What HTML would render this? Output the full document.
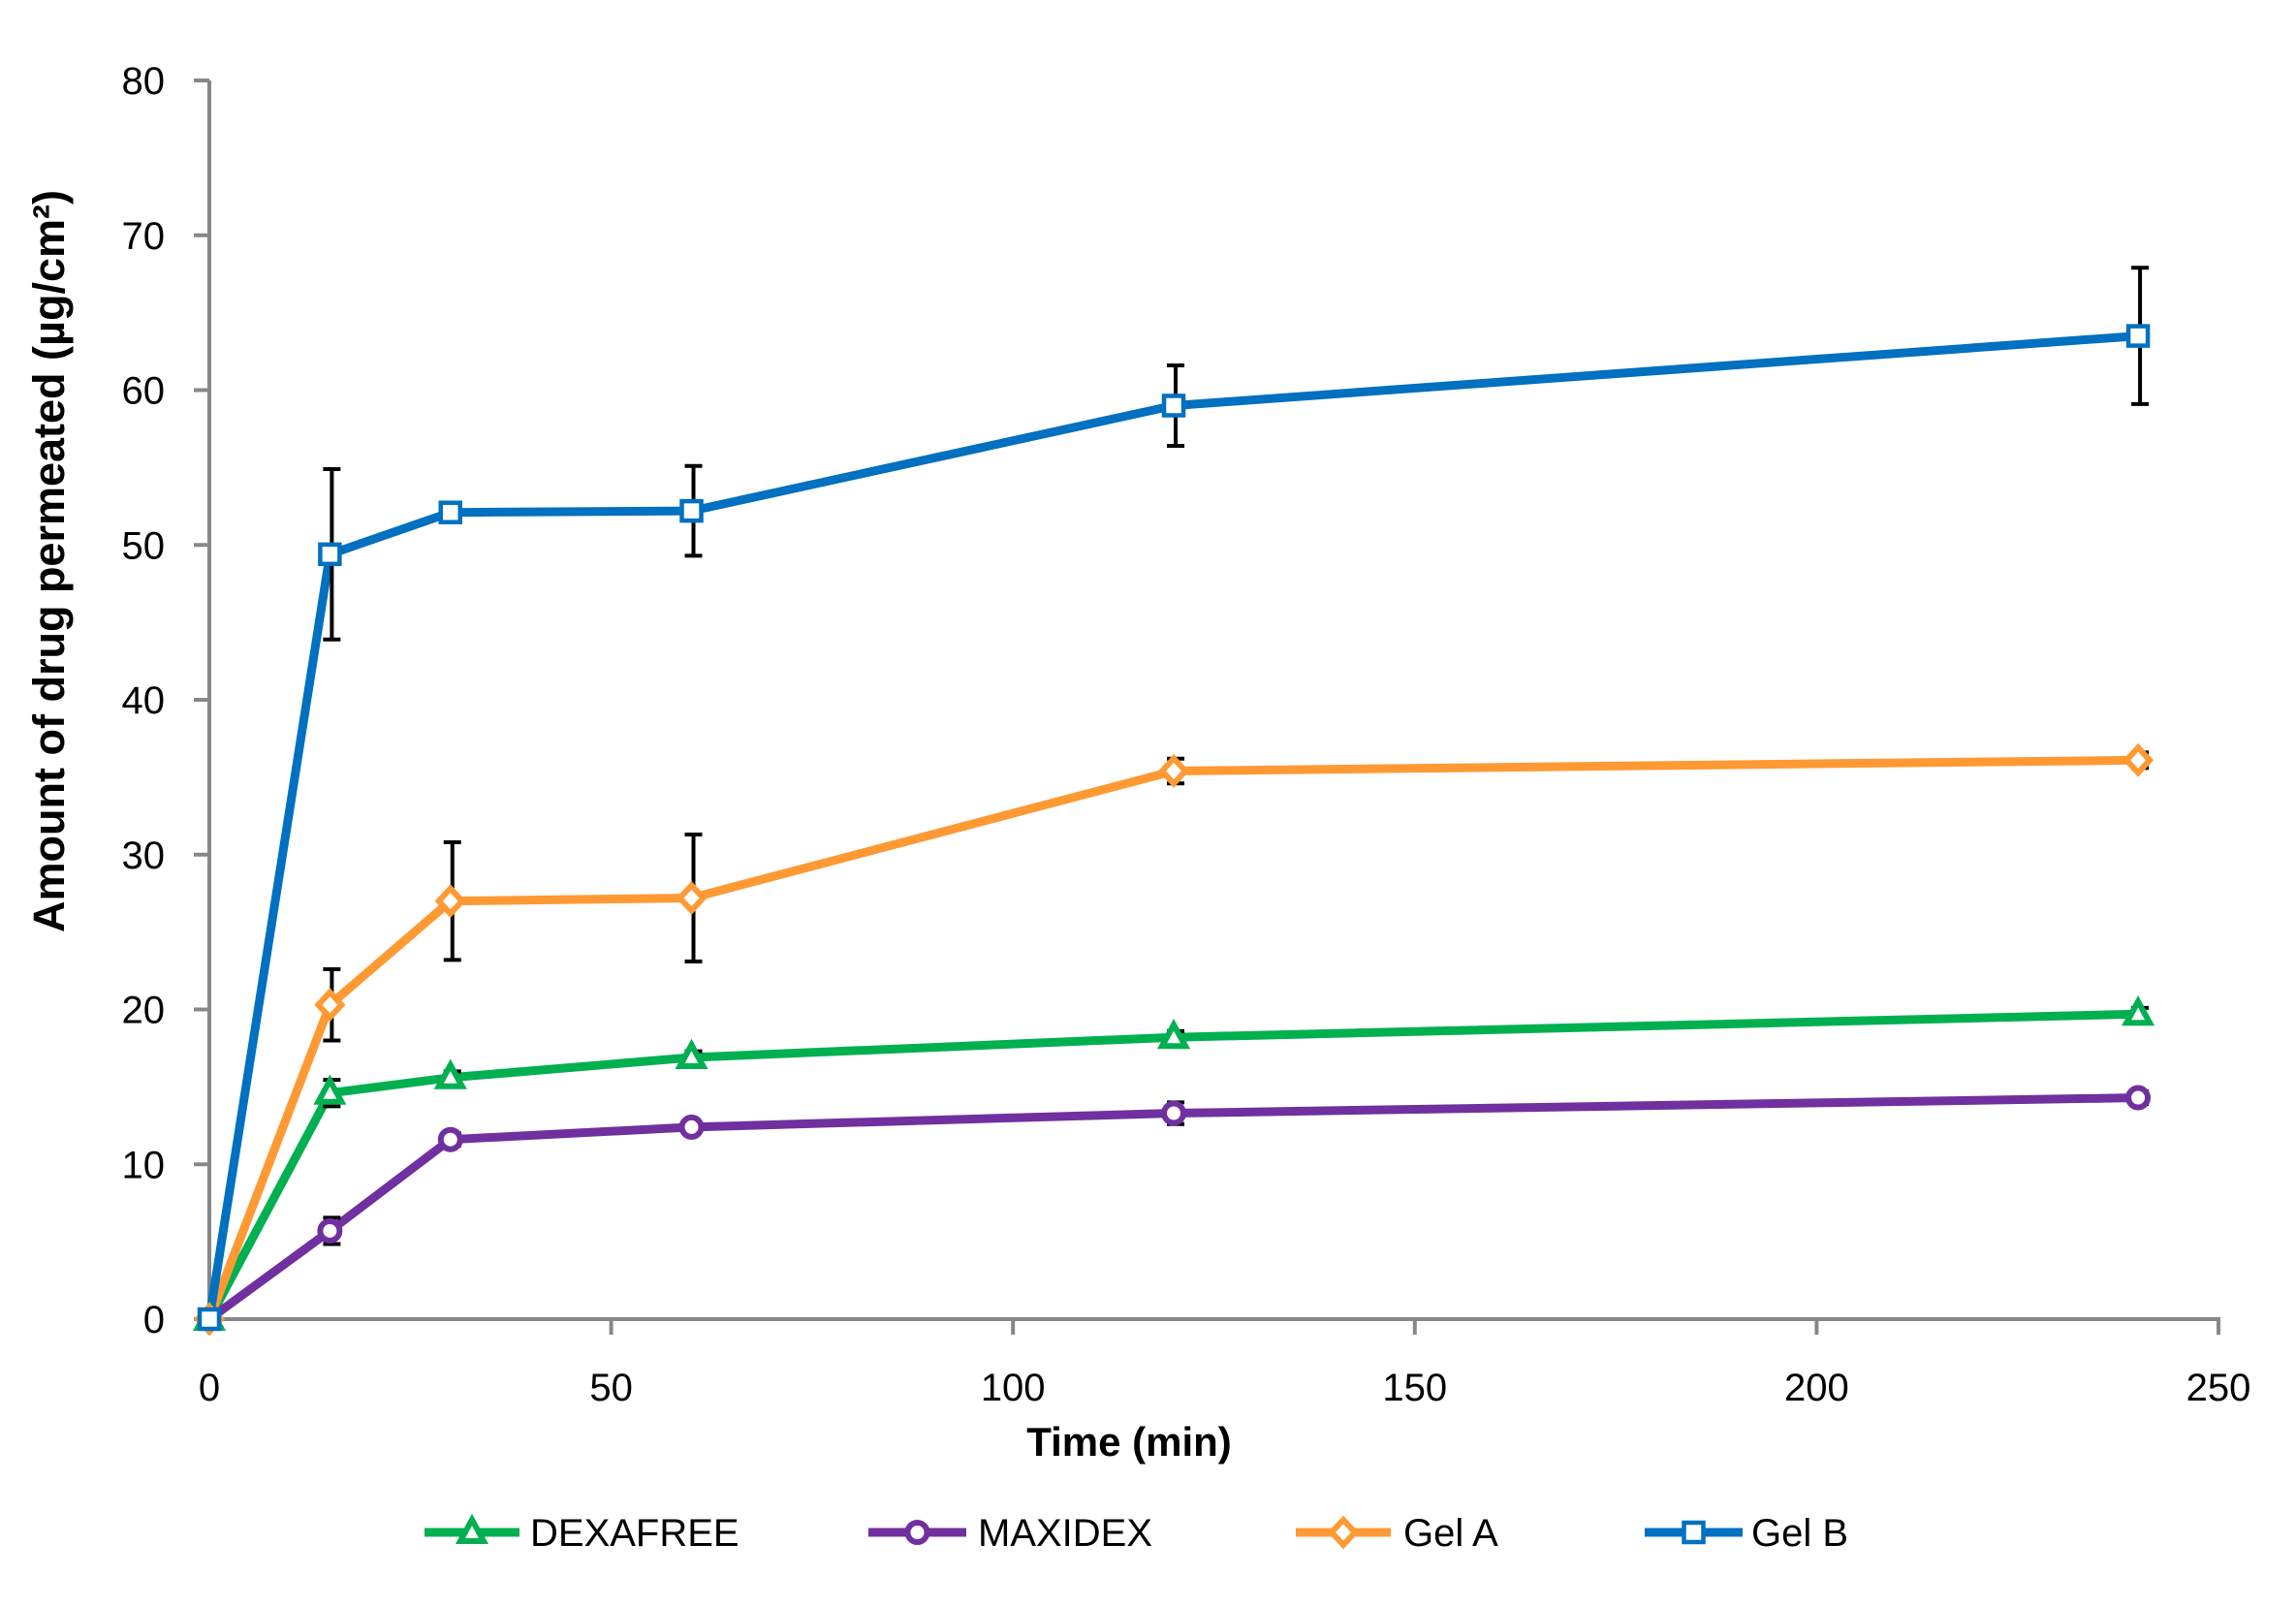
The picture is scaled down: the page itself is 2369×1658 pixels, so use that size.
<!DOCTYPE html>
<html><head><meta charset="utf-8"><style>
html,body{margin:0;padding:0;background:#fff;}
svg{display:block;}
text{font-family:"Liberation Sans Narrow","Liberation Sans",sans-serif;}
</style></head><body>
<svg id="s" width="2369" height="1658" viewBox="0 0 2369 1658" xmlns="http://www.w3.org/2000/svg"></svg>
<script>
const s=document.getElementById('s');
const X=v=>216+v*8.292, Y=v=>1361-v*15.975;
let h='';
h+=`<line x1="216" y1="83" x2="216" y2="1361" stroke="#878787" stroke-width="4"/>`;
h+=`<line x1="214" y1="1361" x2="2291" y2="1361" stroke="#878787" stroke-width="4"/>`;
for(let v=0;v<=80;v+=10){const y=Y(v);h+=`<line x1="200" y1="${y}" x2="216" y2="${y}" stroke="#878787" stroke-width="4"/>`;
h+=`<text x="170" y="${y+14}" font-size="40" text-anchor="end">${v}</text>`;}
for(let v=0;v<=250;v+=50){const x=X(v);h+=`<line x1="${x}" y1="1361" x2="${x}" y2="1377" stroke="#878787" stroke-width="4"/>`;
h+=`<text x="${x}" y="1445" font-size="40" text-anchor="middle">${v}</text>`;}
h+=`<text x="1165" y="1502" font-size="42" font-weight="bold" text-anchor="middle">Time (min)</text>`;
h+=`<text transform="translate(66,579) rotate(-90)" font-size="45" font-weight="bold" text-anchor="middle" style="font-family:'Liberation Sans',sans-serif">Amount of drug permeated (µg/cm²)</text>`;
const t=[0,15,30,60,120,240];
const S=[
 {c:'#00b050',m:'tri',d:[0,14.6,15.6,16.9,18.2,19.7],e:[0,0.85,0.4,0.4,0.4,0.4]},
 {c:'#7030a0',m:'cir',d:[0,5.7,11.6,12.4,13.3,14.3],e:[0,0.85,0.4,0.3,0.7,0.4]},
 {c:'#ff9933',m:'dia',d:[0,20.3,27,27.2,35.4,36.1],e:[0,2.3,3.8,4.1,0.8,0.5]},
 {c:'#0070c0',m:'sq',d:[0,49.4,52.1,52.2,59,63.5],e:[0,5.5,0.6,2.9,2.6,4.4]}
];
function mk(m,x,y,c){
 if(m=='tri')return `<polygon points="${x},${y-13} ${x+12},${y+9} ${x-12},${y+9}" fill="#fff" stroke="${c}" stroke-width="6"/>`;
 if(m=='cir')return `<circle cx="${x}" cy="${y}" r="10" fill="#fff" stroke="${c}" stroke-width="6"/>`;
 if(m=='dia')return `<polygon points="${x},${y-13} ${x+12},${y} ${x},${y+13} ${x-12},${y}" fill="#fff" stroke="${c}" stroke-width="6"/>`;
 return `<rect x="${x-10}" y="${y-10}" width="20" height="20" fill="#fff" stroke="${c}" stroke-width="4.5"/>`;
}
S.forEach(o=>{
 h+=`<polyline fill="none" stroke="${o.c}" stroke-width="9" stroke-linejoin="round" points="${t.map((v,i)=>X(v)+','+Y(o.d[i])).join(' ')}"/>`;
});
S.forEach(o=>{
 t.forEach((v,i)=>{ if(o.e[i]>0){const x=X(v)+2,y1=Y(o.d[i]+o.e[i]),y2=Y(o.d[i]-o.e[i]);
  h+=`<line x1="${x}" y1="${y1}" x2="${x}" y2="${y2}" stroke="#000" stroke-width="4"/><line x1="${x-9}" y1="${y1}" x2="${x+9}" y2="${y1}" stroke="#000" stroke-width="4"/><line x1="${x-9}" y1="${y2}" x2="${x+9}" y2="${y2}" stroke="#000" stroke-width="4"/>`;}});
});
S.forEach(o=>{t.forEach((v,i)=>{h+=mk(o.m,X(v),Y(o.d[i]),o.c);});});
const L=[[438,536,547,'DEXAFREE',0],[896,997,1009,'MAXIDEX',1],[1337,1435,1448,'Gel A',2],[1697,1798,1807,'Gel B',3]];
L.forEach(l=>{const o=S[l[4]],y=1581;
 h+=`<line x1="${l[0]}" y1="${y}" x2="${l[1]}" y2="${y}" stroke="${o.c}" stroke-width="9"/>`;
 h+=mk(o.m,(l[0]+l[1])/2,y,o.c);
 h+=`<text x="${l[2]}" y="${y+14}" font-size="40">${l[3]}</text>`;});
s.innerHTML=h;
</script>
</body></html>
